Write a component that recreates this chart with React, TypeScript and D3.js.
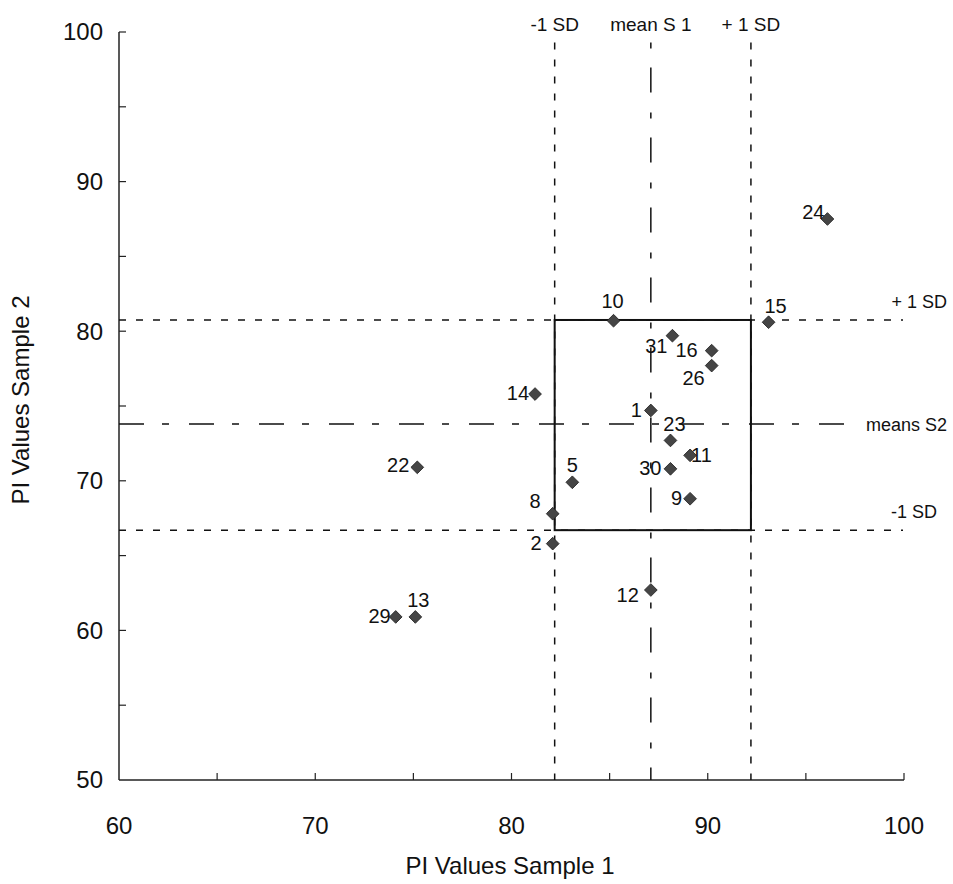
import { useEffect, useRef } from 'react'
import * as d3 from 'd3'

// data
const pointIds = ['1', '2', '5', '8', '9', '10', '11', '12', '13', '14', '15', '16', '22', '23', '24', '26', '29', '30', '31']
const sample1 = [87.1, 82.1, 83.1, 82.1, 89.1, 85.2, 89.1, 87.1, 75.1, 81.2, 93.1, 90.2, 75.2, 88.1, 96.1, 90.2, 74.1, 88.1, 88.2]
const sample2 = [74.7, 65.8, 69.9, 67.8, 68.8, 80.7, 71.7, 62.7, 60.9, 75.8, 80.6, 78.7, 70.9, 72.7, 87.5, 77.7, 60.9, 70.8, 79.7]

const xTicks = [60, 70, 80, 90, 100]
const yTicks = [50, 60, 70, 80, 90, 100]
const minorStep = 5

// reference lines: S1 (vertical) and S2 (horizontal)
const s1Lines = [82.2, 87.1, 92.2]
const s1Labels = ['-1 SD', 'mean S 1', '+ 1 SD']
const s2Lines = [80.75, 73.8, 66.7]
const s2Labels = ['+ 1 SD', 'means S2', '-1 SD']

// label placement relative to each marker: [dx, dy, anchor]
const labelPlacement: Record<string, [number, number, string]> = {
  '1': [-9, 7, 'end'],
  '2': [-11, 6, 'end'],
  '5': [0, -10, 'middle'],
  '8': [-12, -6, 'end'],
  '9': [-8, 6, 'end'],
  '10': [-1, -13, 'middle'],
  '11': [1, 7, 'start'],
  '12': [-12, 12, 'end'],
  '13': [3, -10, 'middle'],
  '14': [-6, 6, 'end'],
  '15': [7, -9, 'middle'],
  '16': [-14, 6, 'end'],
  '22': [-8, 5, 'end'],
  '23': [4, -9, 'middle'],
  '24': [-3, 0, 'end'],
  '26': [-7, 19, 'end'],
  '29': [-5, 6, 'end'],
  '30': [-9, 6, 'end'],
  '31': [-5, 17, 'end'],
}

const width = 953
const height = 884
const font = '"Liberation Sans", Arial, sans-serif'

export default function App() {
  const svgRef = useRef<SVGSVGElement>(null)

  useEffect(() => {
    document.body.style.margin = '0'
    if (!svgRef.current) return
    const svg = d3.select(svgRef.current)
    svg.selectAll('*').remove()

    const x = d3.scaleLinear().domain([60, 100]).range([119, 904])
    const y = d3.scaleLinear().domain([50, 100]).range([780, 32])

    const g = svg.append('g').attr('font-family', font)

    // axes
    g.append('line')
      .attr('x1', x(60)).attr('x2', x(100))
      .attr('y1', y(50)).attr('y2', y(50))
      .attr('stroke', '#222').attr('stroke-width', 1.5)
    g.append('line')
      .attr('x1', x(60)).attr('x2', x(60))
      .attr('y1', y(50)).attr('y2', y(100))
      .attr('stroke', '#222').attr('stroke-width', 1.5)

    const xMinor = d3.range(60, 100.01, minorStep)
    const yMinor = d3.range(50, 100.01, minorStep)
    g.selectAll('.xtick')
      .data(xMinor.slice(1))
      .enter()
      .append('line')
      .attr('x1', (d) => x(d)).attr('x2', (d) => x(d))
      .attr('y1', y(50)).attr('y2', y(50) - 7)
      .attr('stroke', '#222').attr('stroke-width', 1.2)
    g.selectAll('.ytick')
      .data(yMinor.slice(1))
      .enter()
      .append('line')
      .attr('x1', x(60)).attr('x2', x(60) + 7)
      .attr('y1', (d) => y(d)).attr('y2', (d) => y(d))
      .attr('stroke', '#222').attr('stroke-width', 1.2)

    g.selectAll('.xlabel')
      .data(xTicks)
      .enter()
      .append('text')
      .attr('x', (d) => x(d))
      .attr('y', 834)
      .attr('text-anchor', 'middle')
      .attr('font-size', 24)
      .attr('fill', '#111')
      .text((d) => d)
    g.selectAll('.ylabel')
      .data(yTicks)
      .enter()
      .append('text')
      .attr('x', 103)
      .attr('y', (d) => y(d))
      .attr('dy', '0.35em')
      .attr('text-anchor', 'end')
      .attr('font-size', 24)
      .attr('fill', '#111')
      .text((d) => d)

    g.append('text')
      .attr('x', 510)
      .attr('y', 874)
      .attr('text-anchor', 'middle')
      .attr('font-size', 24)
      .attr('fill', '#111')
      .text('PI Values Sample 1')
    g.append('text')
      .attr('transform', `translate(29, 400) rotate(-90)`)
      .attr('text-anchor', 'middle')
      .attr('font-size', 24)
      .attr('fill', '#111')
      .text('PI Values Sample 2')

    // vertical reference lines (sample 1)
    g.selectAll('.s1line')
      .data(s1Lines)
      .enter()
      .append('line')
      .attr('x1', (d) => x(d)).attr('x2', (d) => x(d))
      .attr('y1', y(99.3)).attr('y2', y(50))
      .attr('stroke', '#111')
      .attr('stroke-width', 1.5)
      .attr('stroke-dasharray', (_, i) => (i === 1 ? '6,19,25,20' : '7,10'))
    g.selectAll('.s1label')
      .data(s1Labels)
      .enter()
      .append('text')
      .attr('x', (_, i) => x(s1Lines[i]))
      .attr('y', 31)
      .attr('text-anchor', 'middle')
      .attr('font-size', 19)
      .attr('fill', '#111')
      .text((d) => d)

    // horizontal reference lines (sample 2)
    g.selectAll('.s2line')
      .data(s2Lines)
      .enter()
      .append('line')
      .attr('x1', x(60)).attr('x2', (_, i) => (i === 1 ? 850 : 903))
      .attr('y1', (d) => y(d)).attr('y2', (d) => y(d))
      .attr('stroke', '#111')
      .attr('stroke-width', 1.5)
      .attr('stroke-dasharray', (_, i) => (i === 1 ? '25,18,7,20' : '7,10'))
    g.selectAll('.s2label')
      .data(s2Labels)
      .enter()
      .append('text')
      .attr('x', (_, i) => (i === 2 ? 937 : 947))
      .attr('y', (d, i) => (i === 1 ? y(s2Lines[i]) + 7 : y(s2Lines[i]) - 12))
      .attr('text-anchor', 'end')
      .attr('font-size', 18)
      .attr('fill', '#111')
      .text((d) => d)

    // +/-1 SD box
    g.append('rect')
      .attr('x', x(s1Lines[0]))
      .attr('y', y(s2Lines[0]))
      .attr('width', x(s1Lines[2]) - x(s1Lines[0]))
      .attr('height', y(s2Lines[2]) - y(s2Lines[0]))
      .attr('fill', 'none')
      .attr('stroke', '#111')
      .attr('stroke-width', 2)

    // points
    const points = pointIds.map((id, i) => ({ id, a: sample1[i], b: sample2[i] }))
    const marker = d3.symbol().type(d3.symbolSquare).size(81)

    g.selectAll('.pt')
      .data(points)
      .enter()
      .append('path')
      .attr('d', marker)
      .attr('transform', (d) => `translate(${x(d.a)},${y(d.b)}) rotate(45)`)
      .attr('fill', '#454545')
      .attr('stroke', '#222')
      .attr('stroke-width', 0.8)

    g.selectAll('.ptlabel')
      .data(points)
      .enter()
      .append('text')
      .attr('x', (d) => x(d.a) + labelPlacement[d.id][0])
      .attr('y', (d) => y(d.b) + labelPlacement[d.id][1])
      .attr('text-anchor', (d) => labelPlacement[d.id][2])
      .attr('font-size', 20)
      .attr('fill', '#111')
      .text((d) => d.id)
  }, [])

  return <svg ref={svgRef} width={width} height={height} style={{ display: 'block', background: '#fff' }} />
}
